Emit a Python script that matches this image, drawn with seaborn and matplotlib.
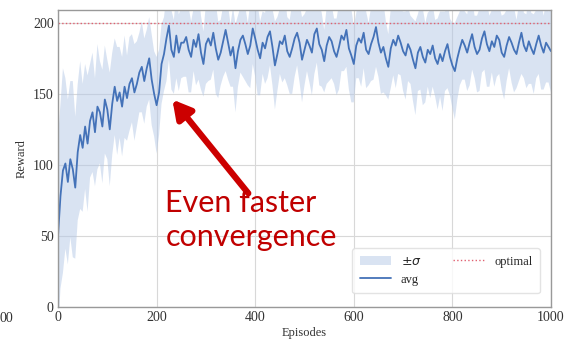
import numpy as np
import pandas as pd
import matplotlib
matplotlib.use("Agg")
import matplotlib.pyplot as plt
import seaborn as sns

# ---------------- data (every 5 episodes) ----------------
episodes = list(range(0, 1001, 5))

avg_reward = [
    50, 78, 96, 101, 88, 104, 97, 84, 109, 121, 112,
    127, 115, 131, 137, 123, 141, 137, 127, 146, 139,
    125, 143, 155, 145, 151, 141, 155, 147, 157, 161,
    151, 157, 165, 169, 159, 168, 175, 160, 150, 142,
    151, 171, 178, 189, 198, 181, 176, 191, 179, 186,
    186, 190, 181, 176, 188, 183, 192, 179, 171, 185,
    189, 184, 193, 182, 174, 179, 187, 195, 186, 177,
    183, 168, 180, 188, 191, 185, 178, 184, 196, 189,
    181, 175, 186, 182, 190, 194, 183, 170, 178, 187,
    185, 191, 180, 176, 182, 189, 193, 186, 174, 181,
    188, 184, 179, 192, 196, 185, 181, 173, 184, 190,
    187, 180, 176, 183, 191, 188, 195, 182, 177, 171,
    184, 189, 186, 193, 181, 178, 185, 190, 197, 186,
    179, 183, 175, 169, 182, 188, 184, 191, 186, 180,
    177, 185, 181, 174, 168, 179, 183, 176, 172, 181,
    178, 184, 175, 171, 178, 173, 180, 185, 176, 170,
    166, 175, 182, 188, 184, 179, 186, 192, 183, 178,
    181, 189, 194, 185, 180, 187, 183, 191, 188, 179,
    176, 184, 190, 186, 181, 178, 186, 193, 184, 180,
    187, 182, 178, 185, 191, 184, 179, 186, 183, 180,
]

std_reward = [
    70, 65, 72, 60, 58, 55, 62, 50, 48, 52, 45,
    44, 48, 40, 42, 38, 44, 36, 40, 38, 35,
    40, 36, 34, 38, 32, 35, 36, 30, 33, 31,
    34, 30, 28, 32, 30, 27, 29, 32, 30, 34,
    30, 28, 26, 30, 24, 28, 26, 30, 27, 25,
    24, 28, 30, 25, 22, 27, 32, 26, 23, 28,
    30, 24, 26, 32, 27, 23, 25, 29, 26, 22,
    28, 31, 25, 23, 29, 26, 22, 30, 25, 27,
    32, 26, 22, 25, 29, 24, 27, 31, 26, 23,
    27, 30, 24, 26, 32, 27, 23, 28, 30, 25,
    22, 26, 30, 28, 24, 29, 26, 22, 27, 31,
    26, 23, 27, 30, 25, 22, 26, 29, 33, 27,
    23, 28, 31, 25, 27, 22, 26, 30, 28, 24,
    29, 32, 26, 23, 28, 25, 30, 27, 23, 28,
    31, 26, 24, 29, 33, 27, 30, 34, 28, 26,
    31, 29, 27, 32, 30, 35, 28, 31, 27, 30,
    34, 29, 26, 28, 24, 27, 30, 25, 22, 27,
    29, 24, 27, 30, 25, 22, 28, 29, 24, 26,
    30, 25, 22, 28, 30, 24, 27, 29, 23, 26,
    30, 25, 28, 24, 27, 31, 26, 28, 25, 29,
]

optimal_reward = 200
x_ticks = [0, 200, 400, 600, 800, 1000]
y_ticks = [0, 50, 100, 150, 200]
annotation = "Even faster\nconvergence"

df = pd.DataFrame({"Episodes": episodes, "Reward": avg_reward, "std": std_reward})
df["lo"] = df["Reward"] - df["std"]
df["hi"] = df["Reward"] + df["std"]

# ---------------- style ----------------
sns.set_theme(style="whitegrid")
plt.rcParams["font.family"] = ["Liberation Serif", "DejaVu Serif"]

fig = plt.figure(figsize=(5.65, 3.44), dpi=100)
ax = fig.add_axes([58 / 565, 1 - 307 / 344, (551 - 58) / 565, (307 - 10) / 344])

ax.fill_between(df["Episodes"], df["lo"], df["hi"], color="#b4c8e6",
                alpha=0.5, linewidth=0, label=r"$\pm\sigma$")
sns.lineplot(data=df, x="Episodes", y="Reward", ax=ax, color="#4472b8",
             linewidth=1.3, label="avg")
ax.axhline(optimal_reward, color="#e06070", linestyle=":", linewidth=1.0,
           label="optimal")

ax.set_xlim(0, 1000)
ax.set_ylim(0, 209)
ax.set_xticks(x_ticks)
ax.set_yticks(y_ticks)
ax.tick_params(axis="both", labelsize=10, length=0, pad=3, colors="#333333")
ax.set_xlabel("Episodes", fontsize=9, labelpad=2, color="#333333")
ax.set_ylabel("Reward", fontsize=9, labelpad=4, color="#333333")
ax.grid(True, color="#d8d8d8", linewidth=0.8)
for s in ax.spines.values():
    s.set_color("#999999")
    s.set_linewidth(1.0)

handles, labels = ax.get_legend_handles_labels()
order = [labels.index(r"$\pm\sigma$"), labels.index("avg"), labels.index("optimal")]
leg = ax.legend([handles[i] for i in order], [labels[i] for i in order],
                ncol=2, loc="lower right", fontsize=9, frameon=True,
                bbox_to_anchor=(0.99, 0.025), columnspacing=2.5,
                handlelength=2.5, borderpad=0.6)
leg.get_frame().set_edgecolor("#dddddd")

ax.annotate("", xy=(232, 146), xytext=(386, 80),
            arrowprops=dict(arrowstyle="-|>,head_length=0.9,head_width=0.5",
                            color="#cc0000", lw=4.5, shrinkA=0, shrinkB=0))
ax.text(218, 61, annotation, color="#c00000", fontsize=22,
        family=["Lato", "DejaVu Sans"], va="center", ha="left",
        linespacing=1.25)

fig.text(0.0, 1 - 318 / 344, "00", fontsize=10, va="center", ha="left",
         color="#333333")

fig.savefig("out.png", dpi=100)
